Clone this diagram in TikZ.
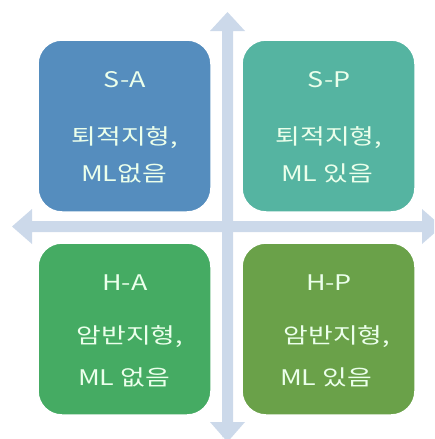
\documentclass[tikz,border=0pt]{standalone}
\usepackage{fontspec}
\setmainfont{Noto Sans CJK KR}
\newfontfamily\boxfont[FakeStretch=1.25]{Noto Sans CJK KR}
\begin{document}
\begin{tikzpicture}[x=1pt,y=-1pt,
  quad/.style={draw=white,line width=1.5pt,rounded corners=24pt},
  lbl/.style={text=white!92!green,font=\boxfont\fontsize{21.5}{24}\selectfont,inner sep=0pt,anchor=center}]
\useasboundingbox (0,0) rectangle (434,439);
\clip (0,0) rectangle (434,439);
\definecolor{saC}{HTML}{558DBE}
\definecolor{spC}{HTML}{55B4A1}
\definecolor{haC}{HTML}{45AB63}
\definecolor{hpC}{HTML}{6AA149}
\definecolor{axC}{HTML}{CCD9EA}
% axes
\fill[axC] (222,442) -- (222,31) -- (210,31) -- (227.5,12) -- (245,31) -- (233,31) -- (233,422) -- (245,422) -- (227.5,442) -- (210,422) -- (222,422) -- cycle;
\fill[axC] (32,221) -- (422,221) -- (422,209) -- (442,226.5) -- (422,244) -- (422,232) -- (32,232) -- (32,244) -- (12,226.5) -- (32,209) -- cycle;
% boxes
\draw[quad,fill=saC] (38,40) rectangle (211,212);
\draw[quad,fill=spC] (242,40) rectangle (415,212);
\draw[quad,fill=haC] (38,243) rectangle (211,415);
\draw[quad,fill=hpC] (242,243) rectangle (415,415);
% texts
\node[lbl] (sa1) at (125,80) {S-A};
\node[lbl] (sa2) at (125,138) {퇴적지형,};
\node[lbl] (sa3) at (124,173) {ML없음};
\node[lbl] (sp1) at (329,80) {S-P};
\node[lbl] (sp2) at (329,138) {퇴적지형,};
\node[lbl] (sp3) at (327,173) {ML 있음};
\node[lbl] (ha1) at (125,283) {H-A};
\node[lbl] (ha2) at (130,337) {암반지형,};
\node[lbl] (ha3) at (124,377) {ML 없음};
\node[lbl] (hp1) at (329,283) {H-P};
\node[lbl] (hp2) at (337,337) {암반지형,};
\node[lbl] (hp3) at (326,377) {ML 있음};
\end{tikzpicture}
\end{document}
